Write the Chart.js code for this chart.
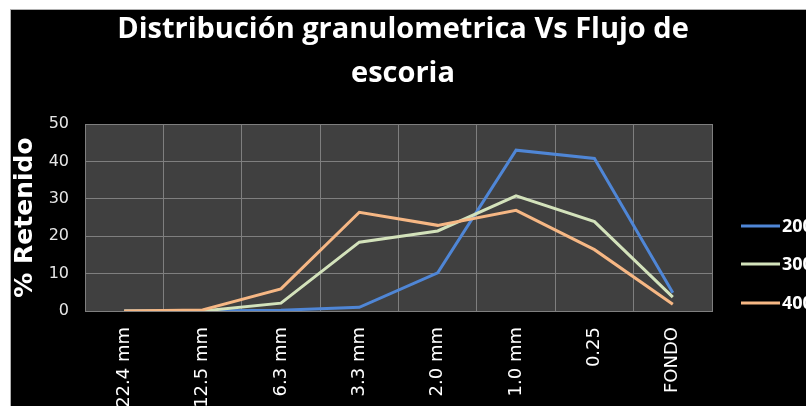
<!DOCTYPE html>
<html>
<head>
<meta charset="utf-8">
<script src="https://cdn.jsdelivr.net/npm/chart.js@4.4.1/dist/chart.umd.min.js"></script>
<style>
  html, body { margin: 0; padding: 0; background: #ffffff; }
  canvas { display: block; }
</style>
</head>
<body>
<canvas id="granChart" width="806" height="406"></canvas>
<script>
// sieve sizes and % retained per flux level
const categories = ['22.4 mm', '12.5 mm', '6.3 mm', '3.3 mm', '2.0 mm', '1.0 mm', '0.25', 'FONDO'];
const serie200 = [0, 0, 0.2, 1.0, 10.2, 43.0, 40.8, 4.9];
const serie300 = [0, 0, 2.1, 18.4, 21.4, 30.8, 23.9, 3.7];
const serie400 = [0, 0.3, 5.9, 26.4, 22.9, 26.9, 16.4, 1.8];
const seriesNames = ['200', '300', '400'];
const yTicks = [0, 10, 20, 30, 40, 50];

// black frame + dark plot background
const backdrop = {
  id: 'backdrop',
  beforeDraw(chart) {
    const { ctx, chartArea } = chart;
    ctx.save();
    ctx.fillStyle = '#ffffff';
    ctx.fillRect(0, 0, chart.width, chart.height);
    ctx.fillStyle = '#b0b0b0';
    ctx.fillRect(10, 9, chart.width, chart.height);
    ctx.fillStyle = '#000000';
    ctx.fillRect(11, 10, chart.width, chart.height);
    ctx.fillStyle = '#404040';
    ctx.fillRect(chartArea.left, chartArea.top, chartArea.right - chartArea.left, chartArea.bottom - chartArea.top);
    ctx.restore();
  }
};

// legend on the right, running off the edge like the original
const sideLegend = {
  id: 'sideLegend',
  afterDraw(chart) {
    const { ctx } = chart;
    const rows = [226, 264, 303];
    ctx.save();
    chart.data.datasets.forEach((ds, i) => {
      const y = rows[i];
      ctx.strokeStyle = ds.borderColor;
      ctx.lineWidth = 3;
      ctx.beginPath();
      ctx.moveTo(741, y);
      ctx.lineTo(780, y);
      ctx.stroke();
      ctx.fillStyle = '#ffffff';
      ctx.font = 'bold 18px "Open Sans"';
      ctx.textBaseline = 'middle';
      ctx.fillText(ds.label, 782, y + 1);
    });
    ctx.restore();
  }
};

const ctx = document.getElementById('granChart').getContext('2d');
new Chart(ctx, {
  type: 'line',
  data: {
    labels: categories,
    datasets: [
      { label: seriesNames[0], data: serie200, borderColor: '#4f86d6', order: 2 },
      { label: seriesNames[1], data: serie300, borderColor: '#d3e2bb', order: 1 },
      { label: seriesNames[2], data: serie400, borderColor: '#f6b784', order: 0 }
    ]
  },
  options: {
    responsive: false,
    animation: false,
    elements: {
      line: { borderWidth: 3, tension: 0 },
      point: { radius: 0 }
    },
    layout: { padding: 0 },
    plugins: {
      legend: { display: false },
      tooltip: { enabled: false },
      title: {
        display: true,
        text: ['Distribución granulometrica Vs Flujo de', 'escoria'],
        color: '#ffffff',
        font: { family: '"Open Sans"', size: 29, weight: 'bold', lineHeight: 1.5 },
        padding: { top: 8, bottom: 29 }
      }
    },
    scales: {
      x: {
        offset: true,
        grid: { color: '#7f7f7f', offset: true, drawTicks: false },
        border: { color: '#7f7f7f' },
        ticks: {
          color: '#ffffff',
          minRotation: 90,
          maxRotation: 90,
          padding: 16,
          font: { family: '"DejaVu Sans"', size: 18 }
        },
        afterFit(scale) { scale.height = 95; }
      },
      y: {
        min: 0,
        max: 50,
        afterBuildTicks(scale) { scale.ticks = yTicks.map(v => ({ value: v })); },
        grid: { color: '#7f7f7f', drawTicks: false },
        border: { color: '#7f7f7f' },
        ticks: {
          color: '#e6e6e6',
          padding: 16,
          font: { family: '"DejaVu Sans"', size: 16 }
        },
        title: {
          display: true,
          text: '% Retenido',
          color: '#ffffff',
          font: { family: '"DejaVu Sans"', size: 25, weight: 'bold' },
          padding: { top: 10, bottom: 0 }
        },
        afterFit(scale) { scale.width = 85; }
      },
      // empty right-hand axis that reserves room for the legend
      yRight: {
        position: 'right',
        min: 0,
        max: 50,
        grid: { display: false, drawTicks: false },
        border: { display: false },
        ticks: { display: false },
        afterFit(scale) { scale.width = 94; }
      }
    }
  },
  plugins: [backdrop, sideLegend]
});
</script>
</body>
</html>
